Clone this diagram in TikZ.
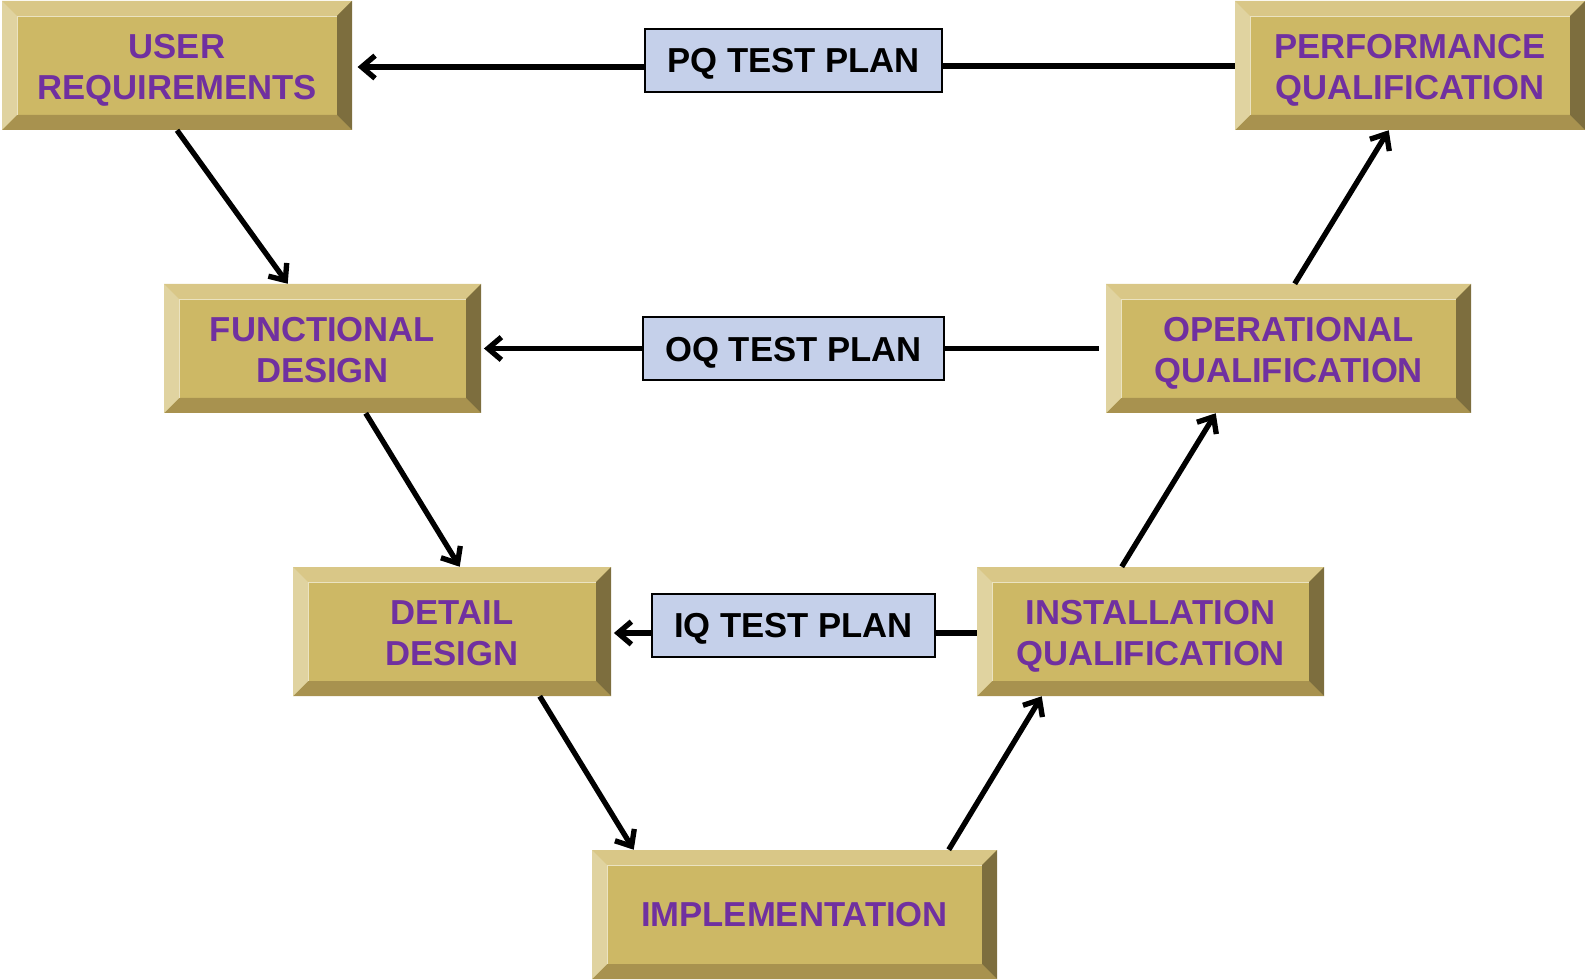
\documentclass[tikz,border=0pt]{standalone}
\usepackage{fontspec}
\setmainfont{Liberation Sans}
\usetikzlibrary{arrows.meta,calc}
\definecolor{bvcenter}{HTML}{CDB865}
\definecolor{bvtop}{HTML}{D9C787}
\definecolor{bvleft}{HTML}{E0D3A0}
\definecolor{bvbottom}{HTML}{A8924F}
\definecolor{bvright}{HTML}{7D6E3E}
\definecolor{txtpurple}{HTML}{7030A0}
\definecolor{planblue}{HTML}{C5D0EA}
\newcommand\bvtext[1]{\raisebox{0pt}[\dimexpr\height+7.5pt\relax][\depth]{\begin{tabular}{@{}c@{}}#1\end{tabular}}}
\tikzset{
  bevelbox/.style={rectangle, inner sep=0pt, fill=bvcenter, text=txtpurple,
    minimum height={129*0.75pt},
    font=\bfseries\fontsize{26}{30.75}\selectfont,
    path picture={
      \path (path picture bounding box.north west) coordinate (bnw)
            (path picture bounding box.north east) coordinate (bne)
            (path picture bounding box.south west) coordinate (bsw)
            (path picture bounding box.south east) coordinate (bse);
      \fill[bvtop] (bnw) -- (bne) -- ([shift={(-15,15)}]bne) -- ([shift={(15,15)}]bnw) -- cycle;
      \fill[bvbottom] (bsw) -- (bse) -- ([shift={(-15,-15)}]bse) -- ([shift={(15,-15)}]bsw) -- cycle;
      \fill[bvleft] (bnw) -- (bsw) -- ([shift={(15,-15)}]bsw) -- ([shift={(15,15)}]bnw) -- cycle;
      \fill[bvright] (bne) -- (bse) -- ([shift={(-15,-15)}]bse) -- ([shift={(-15,15)}]bne) -- cycle;
      \draw[white!60!bvcenter, line width=0.6pt] ([shift={(15,-15)}]bsw) -- ([shift={(15,15)}]bnw) -- ([shift={(-15,15)}]bne);
    }},
  planbox/.style={rectangle, inner sep=0pt, draw=black, line width=1.5pt, fill=planblue,
    minimum height={63*0.75pt}, text height=18.6pt, text depth=0pt,
    font=\bfseries\fontsize{26}{30.75}\selectfont},
  arr/.style={line width=4pt, -{Straight Barb[length=10pt,width=17pt,line width=4pt]}},
  ln/.style={line width=4pt}
}
\begin{document}
\begin{tikzpicture}[x=0.75pt,y=-0.75pt]
\useasboundingbox (0,0) rectangle (1585,980);
% V-model boxes
\node[bevelbox, minimum width={350*0.75pt}] (UR) at (177,65.5) {\bvtext{USER\\REQUIREMENTS}};
\node[bevelbox, minimum width={350*0.75pt}] (PERF) at (1410,65.5) {\bvtext{PERFORMANCE\\QUALIFICATION}};
\node[bevelbox, minimum width={317*0.75pt}] (FD) at (322.5,348.5) {\bvtext{FUNCTIONAL\\DESIGN}};
\node[bevelbox, minimum width={365*0.75pt}] (OQ) at (1288.5,348.5) {\bvtext{OPERATIONAL\\QUALIFICATION}};
\node[bevelbox, minimum width={318*0.75pt}] (DD) at (452,631.5) {\bvtext{DETAIL\\DESIGN}};
\node[bevelbox, minimum width={347*0.75pt}] (IQ) at (1150.5,631.5) {\bvtext{INSTALLATION\\QUALIFICATION}};
\node[bevelbox, minimum width={405*0.75pt}, text height=18.6pt, text depth=0pt] (IMPL) at (794.5,914.5) {IMPLEMENTATION};
% test plans
\node[planbox, minimum width={297*0.75pt}] (PQTP) at (793.5,60.5) {PQ TEST PLAN};
\node[planbox, minimum width={301*0.75pt}] (OQTP) at (793.5,349) {OQ TEST PLAN};
\node[planbox, minimum width={283*0.75pt}] (IQTP) at (793.5,625.5) {IQ TEST PLAN};
% horizontal connectors
\draw[arr] (PQTP.west |- 0,67) -- ([xshift=4]UR.east |- 0,67);
\draw[ln] (PQTP.east |- 0,66) -- (PERF.west |- 0,66);
\draw[arr] (OQTP.west |- FD.east) -- ([xshift=2]FD.east);
\draw[ln] (OQTP.east |- FD.east) -- ([xshift=-5]OQ.west);
\draw[arr] (IQTP.west |- 0,633) -- ([xshift=2]DD.east |- 0,633);
\draw[ln] (IQTP.east |- 0,633) -- (IQ.west |- 0,633);
% diagonal connectors
\draw[arr] (UR.south) -- ($(FD.north west)+(124,0)$);
\draw[arr] ($(FD.south west)+(202,0)$) -- ($(DD.north west)+(167,0)$);
\draw[arr] ($(DD.south west)+(247,0)$) -- ($(IMPL.north west)+(42,0)$);
\draw[arr] ($(IMPL.north west)+(357,0)$) -- ($(IQ.south west)+(65,0)$);
\draw[arr] ($(IQ.north west)+(145,0)$) -- ($(OQ.south west)+(110,0)$);
\draw[arr] ($(OQ.north west)+(189,0)$) -- ($(PERF.south west)+(154,0)$);
\end{tikzpicture}
\end{document}
